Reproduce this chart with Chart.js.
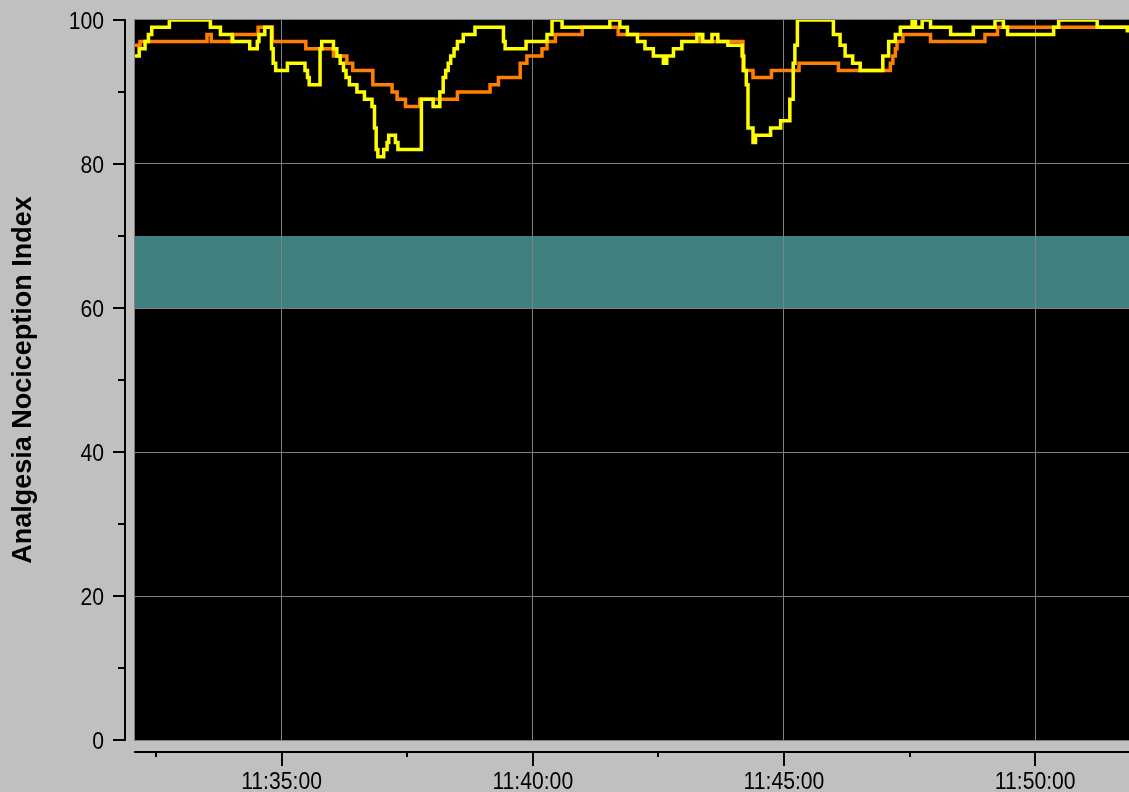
<!DOCTYPE html>
<html>
<head>
<meta charset="utf-8">
<script src="https://cdn.jsdelivr.net/npm/chart.js@4.4.1/dist/chart.umd.min.js"></script>
<style>
  html, body { margin: 0; padding: 0; background: #c0c0c0; overflow: hidden; }
  #wrap { width: 1129px; height: 792px; }
</style>
</head>
<body>
<div id="wrap"><canvas id="aniChart"></canvas></div>
<script>
// time window shown on the monitor
const startTime = '11:32:05';
const endTime = '11:51:52';

const xTickLabels = ['11:35:00', '11:40:00', '11:45:00', '11:50:00'];
const xMinorTicks = ['11:32:30', '11:37:30', '11:42:30', '11:47:30'];
const yTickLabels = [0, 20, 40, 60, 80, 100];
const yMinorTicks = [10, 30, 50, 70, 90];

// target zone
const bandLow = 60;
const bandHigh = 70;

// yellow trace (value holds until next time)
const yellowTimes = [
  '11:32:05', '11:32:10', '11:32:17', '11:32:21', '11:32:25', '11:32:46', '11:33:35', '11:33:47',
  '11:34:01', '11:34:22', '11:34:31', '11:34:33', '11:34:40', '11:34:48', '11:34:50', '11:34:53',
  '11:35:07', '11:35:28', '11:35:31', '11:35:33', '11:35:46', '11:35:48', '11:36:02', '11:36:06',
  '11:36:10', '11:36:14', '11:36:17', '11:36:21', '11:36:30', '11:36:39', '11:36:48', '11:36:51',
  '11:36:53', '11:36:55', '11:37:02', '11:37:06', '11:37:08', '11:37:16', '11:37:19', '11:37:47',
  '11:38:01', '11:38:09', '11:38:13', '11:38:16', '11:38:19', '11:38:22', '11:38:26', '11:38:30',
  '11:38:37', '11:38:51', '11:39:25', '11:39:27', '11:39:52', '11:40:17', '11:40:23', '11:40:35',
  '11:41:32', '11:41:44', '11:41:53', '11:42:05', '11:42:14', '11:42:24', '11:42:36', '11:42:40',
  '11:42:48', '11:42:58', '11:43:16', '11:43:23', '11:43:34', '11:43:41', '11:43:53', '11:44:10',
  '11:44:12', '11:44:15', '11:44:17', '11:44:23', '11:44:26', '11:44:44', '11:44:56', '11:45:07',
  '11:45:11', '11:45:13', '11:45:16', '11:45:59', '11:46:07', '11:46:13', '11:46:22', '11:46:31',
  '11:46:58', '11:47:05', '11:47:13', '11:47:19', '11:47:33', '11:47:37', '11:47:45', '11:47:55',
  '11:48:19', '11:48:46', '11:49:12', '11:49:22', '11:49:27', '11:50:22', '11:50:28', '11:51:14',
  '11:51:50'
];
const yellowValues = [
  95, 96, 97, 98, 99, 100, 99, 98,
  97, 96, 97, 98, 99, 96, 94, 93,
  94, 93, 92, 91, 96, 97, 96, 95,
  94, 93, 92, 91, 90, 89, 88, 85,
  82, 81, 82, 83, 84, 83, 82, 89,
  88, 90, 92, 93, 94, 95, 96, 97,
  98, 99, 97, 96, 97, 98, 100, 99,
  100, 99, 98, 97, 96, 95, 94, 95,
  96, 97, 98, 97, 98, 97, 96.5, 95,
  93, 91, 85, 83, 84, 85, 86, 89,
  94, 96.5, 100, 98, 96.5, 95, 94, 93,
  95, 97, 98, 99, 100, 99, 100, 99,
  98, 99, 100, 99, 98, 99, 100, 99,
  98.5
];

// orange trace
const orangeTimes = [
  '11:32:05', '11:32:11', '11:33:31', '11:33:36', '11:34:02', '11:34:32', '11:34:49', '11:35:29',
  '11:36:02', '11:36:18', '11:36:25', '11:36:49', '11:37:12', '11:37:18', '11:37:28', '11:37:45',
  '11:38:30', '11:39:09', '11:39:19', '11:39:45', '11:39:53', '11:40:11', '11:40:17', '11:40:27',
  '11:40:59', '11:41:42', '11:43:20', '11:44:11', '11:44:23', '11:44:45', '11:45:18', '11:46:05',
  '11:47:07', '11:47:10', '11:47:13', '11:47:15', '11:47:22', '11:47:55', '11:49:00', '11:49:15'
];
const orangeValues = [
  96.5, 97, 98, 97, 98, 99, 97, 96,
  95, 94, 93, 91, 90, 89, 88, 89,
  90, 91, 92, 94, 95, 96, 97, 98,
  99, 98, 97, 93, 92, 93, 94, 93,
  94, 95, 96, 97, 98, 97, 98, 99
];

function toSec(s) {
  const p = s.split(':').map(Number);
  return p[0] * 3600 + p[1] * 60 + p[2];
}
function fmt(sec) {
  const h = Math.floor(sec / 3600), m = Math.floor(sec / 60) % 60, s = sec % 60;
  return h + ':' + String(m).padStart(2, '0') + ':' + String(s).padStart(2, '0');
}
function toPoints(times, values) {
  const pts = times.map((t, i) => ({ x: toSec(t), y: values[i] }));
  pts.push({ x: toSec(endTime), y: values[values.length - 1] });
  return pts;
}

const xMajor = xTickLabels.map(toSec);
const xAll = xMajor.concat(xMinorTicks.map(toSec)).sort((a, b) => a - b);
const yAll = yTickLabels.concat(yMinorTicks).sort((a, b) => a - b);

const gridGray = '#808080';
const hidden = 'rgba(0,0,0,0)';
// the monitor font is a narrow sans, so labels get squeezed sideways
const labelFont = '23.5px "Liberation Sans", Arial, sans-serif';
const squeeze = 0.9;

function squeezedText(ctx, text, x, y, align) {
  ctx.save();
  ctx.translate(x, y);
  ctx.scale(squeeze, 1);
  ctx.textAlign = align;
  ctx.textBaseline = 'alphabetic';
  ctx.fillText(text, 0, 0);
  ctx.restore();
}

// black plot area, target band, frame, axis lines, ticks and labels
const frame = {
  id: 'frame',
  beforeDraw(chart) {
    const { ctx, chartArea: a, scales: { y } } = chart;
    ctx.save();
    ctx.fillStyle = '#000';
    ctx.fillRect(a.left, a.top, a.right - a.left, a.bottom - a.top);
    const top = y.getPixelForValue(bandHigh), bot = y.getPixelForValue(bandLow);
    ctx.fillStyle = '#408080';
    ctx.fillRect(a.left, top, a.right - a.left, bot - top);
    ctx.strokeStyle = gridGray;
    ctx.lineWidth = 1;
    ctx.strokeRect(a.left - 0.5, a.top - 0.5, a.right - a.left + 1, a.bottom - a.top + 1);
    ctx.restore();
  },
  afterDraw(chart) {
    const { ctx, chartArea: a, scales: { x, y } } = chart;
    ctx.save();
    ctx.strokeStyle = '#000';
    ctx.lineWidth = 2;
    ctx.beginPath();
    const ax = a.left - 10;
    ctx.moveTo(ax, a.top);
    ctx.lineTo(ax, a.bottom + 1);
    y.ticks.forEach(t => {
      const py = Math.round(y.getPixelForValue(t.value));
      const len = t.label !== '' ? 12 : 7;
      ctx.moveTo(ax + 1, py);
      ctx.lineTo(ax - len, py);
    });
    const ay = a.bottom + 12;
    ctx.moveTo(a.left - 1, ay);
    ctx.lineTo(a.right, ay);
    x.ticks.forEach(t => {
      const px = Math.round(x.getPixelForValue(t.value));
      const len = t.label !== '' ? 14 : 5;
      ctx.moveTo(px, ay);
      ctx.lineTo(px, ay + len);
    });
    ctx.stroke();

    ctx.fillStyle = '#000';
    ctx.font = labelFont;
    y.ticks.forEach(t => {
      if (t.label === '') return;
      squeezedText(ctx, t.label, a.left - 31, y.getPixelForValue(t.value) + 8.5, 'right');
    });
    x.ticks.forEach(t => {
      if (t.label === '') return;
      squeezedText(ctx, t.label, x.getPixelForValue(t.value), 789, 'center');
    });
    ctx.restore();
  }
};

new Chart(document.getElementById('aniChart'), {
  type: 'line',
  data: {
    datasets: [
      {
        label: 'ANI',
        data: toPoints(yellowTimes, yellowValues),
        borderColor: '#ffff00',
        borderWidth: 3.5,
        stepped: true,
        pointRadius: 0,
        clip: 0
      },
      {
        label: 'ANI mean',
        data: toPoints(orangeTimes, orangeValues),
        borderColor: '#ff8000',
        borderWidth: 3.5,
        stepped: true,
        pointRadius: 0,
        clip: 0
      }
    ]
  },
  options: {
    responsive: true,
    maintainAspectRatio: false,
    animation: false,
    layout: { padding: { left: 0, right: 0, top: 20, bottom: 0 } },
    plugins: { legend: { display: false }, tooltip: { enabled: false } },
    scales: {
      x: {
        type: 'linear',
        min: toSec(startTime),
        max: toSec(endTime),
        afterBuildTicks: s => { s.ticks = xAll.map(v => ({ value: v })); },
        afterFit: s => { s.height = 52; s.paddingLeft = 0; s.paddingRight = 0; },
        border: { display: false },
        grid: {
          drawTicks: false,
          color: c => xMajor.includes(c.tick.value) ? gridGray : hidden,
          lineWidth: 1
        },
        ticks: {
          autoSkip: false,
          maxRotation: 0,
          padding: 25,
          color: hidden,
          font: { size: 20 },
          callback: v => xMajor.includes(v) ? fmt(v) : ''
        }
      },
      y: {
        min: 0,
        max: 100,
        afterBuildTicks: s => { s.ticks = yAll.map(v => ({ value: v })); },
        afterFit: s => { s.width = 135; s.paddingTop = 0; s.paddingBottom = 0; },
        border: { display: false },
        grid: {
          drawTicks: false,
          color: c => (c.tick.value % 20 === 0 && c.tick.value > 0 && c.tick.value < 100) ? gridGray : hidden,
          lineWidth: 1
        },
        ticks: {
          padding: 31,
          color: hidden,
          font: { size: 20 },
          callback: v => yTickLabels.includes(v) ? String(v) : ''
        },
        title: {
          display: true,
          text: 'Analgesia Nociception Index',
          color: '#000',
          padding: { top: 7, bottom: 0 },
          font: { family: "'Liberation Sans', Arial, sans-serif", size: 27, weight: 'bold' }
        }
      }
    }
  },
  plugins: [frame]
});
</script>
</body>
</html>
